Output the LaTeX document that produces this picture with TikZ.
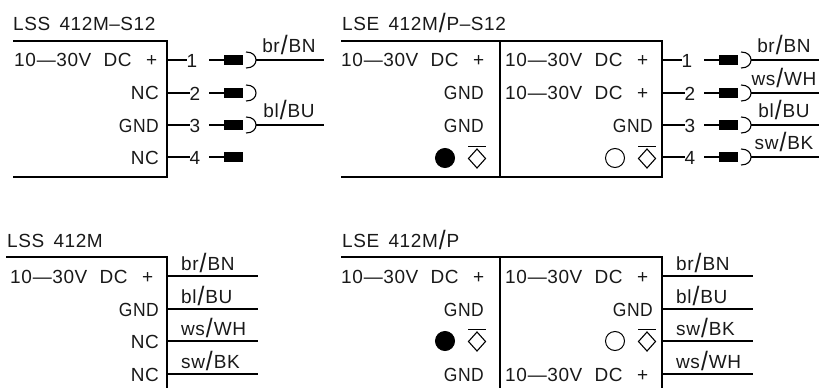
\documentclass[tikz,border=0pt]{standalone}
\usepackage{fontspec}
\usepackage{graphicx}
\setmainfont[LetterSpace=3,WordSpace=1.6]{Liberation Sans}
\usetikzlibrary{calc}
\newcommand{\bslash}{\hspace{1pt}\raisebox{-2.5pt}{\scalebox{1.3}[1.4]{/}}\hspace{1pt}}
\newcommand{\vdc}{10\hspace{1pt}—\hspace{0.5pt}30V\hspace{3pt} DC\hspace{5pt} +}
\newcommand{\gnd}{\scalebox{0.92}[1]{GND}}
\tikzset{
  x=1pt,y=-1pt,
  wire/.style={line width=1.1pt,black},
  txt/.style={inner sep=0pt,font=\fontsize{19}{21}\selectfont,text=black!90},
  rtxt/.style={txt,anchor=base east},
  ltxt/.style={txt,anchor=base west},
  pnum/.style={txt,anchor=center},
  plug/.style={fill=black,draw=none,minimum width=19pt,minimum height=9.5pt,inner sep=0pt,anchor=west},
  led/.style={circle,draw=black,line width=1pt,minimum size=19pt,inner sep=0pt},
  ledon/.style={led,fill=black},
}
% name, edge x, row y, number, label, number x offset
\newcommand{\pinrow}[6]{%
  \coordinate (#1e) at (#2,#3);
  \node[pnum] (#1n) at (#2+#6,#3+1) {#4};
  \node[plug] (#1p) at (#2+57,#3) {};
  \coordinate (#1s) at (#2+42,#3);
  \draw[wire] (#1e) -- (#1e -| #1n.west);
  \draw[wire] (#1s) -- (#1p.west);
  \coordinate (#1a) at (#2+79,#3-8);
  \coordinate (#1b) at (#2+79,#3+8);
  \coordinate (#1w) at (#2+89,#3);
  \draw[wire] (#1a) .. controls (#2+86,#3-8) and (#2+89,#3-4) .. (#1w)
     .. controls (#2+89,#3+4) and (#2+86,#3+8) .. (#1b);
  \if\relax\detokenize{#5}\relax\else
    \coordinate (#1z) at (#2+157,#3);
    \draw[wire] (#1w) -- (#1z);
    \node[txt,anchor=base] (#1l) at (#2+122,#3-8) {#5};
  \fi
}
\newcommand{\wirerow}[4]{% name, edge x, y, label
  \coordinate (#1e) at (#2,#3);
  \coordinate (#1z) at (#2+91,#3);
  \draw[wire] (#1e) -- (#1z);
  \node[ltxt] (#1l) at (#2+14,#3-6) {#4};
}
\newcommand{\sensor}[2]{% name, centre
  \node[inner sep=0pt,minimum size=0pt] (#1) at #2 {};
  \coordinate (#1t) at ($(#1)+(0,-9.5)$);
  \coordinate (#1r) at ($(#1)+(8.5,0)$);
  \coordinate (#1b) at ($(#1)+(0,9.5)$);
  \coordinate (#1l) at ($(#1)+(-8.5,0)$);
  \draw[wire] (#1t)--(#1r)--(#1b)--(#1l)--cycle;
  \draw[wire] ($(#1t)+(-9,-2.5)$) -- ($(#1t)+(9,-2.5)$);
}
\begin{document}
\begin{tikzpicture}
\useasboundingbox (0,0) rectangle (835,388);
% ---------- top left
\node[ltxt] (t1) at (13,30) {LSS 412M\hspace{0.5pt}–\hspace{0.5pt}S12};
\coordinate (a1) at (13,41); \coordinate (a2) at (167,41); \coordinate (a3) at (167,177); \coordinate (a4) at (13,177);
\draw[wire] (a1)--(a2)--(a3)--(a4);
\node[ltxt] (a10) at (14,66) {\vdc};
\node[rtxt] at (159,99) {NC};
\node[rtxt] at (159,132) {\gnd};
\node[rtxt] at (159,164) {NC};
\pinrow{A}{167}{60}{1}{br\bslash BN}{25}
\pinrow{B}{167}{93}{2}{}{28}
\pinrow{C}{167}{125}{3}{bl\bslash BU}{28}
\coordinate (De) at (167,157);
\coordinate (Ds) at (209,157);
\node[pnum] (Dn) at (195,158) {4};
\node[plug] (Dp) at (224,157) {};
\draw[wire] (De) -- (De -| Dn.west);
\draw[wire] (Ds) -- (Dp.west);
% ---------- top right
\node[ltxt] (t2) at (342,30) {LSE 412M\bslash P\hspace{0.5pt}–\hspace{0.5pt}S12};
\coordinate (b1) at (341,41); \coordinate (b2) at (662,41); \coordinate (b3) at (662,177); \coordinate (b4) at (341,177);
\coordinate (bd1) at (500,41); \coordinate (bd2) at (500,177);
\draw[wire] (b1)--(b2)--(b3)--(b4);
\draw[wire] (bd1)--(bd2);
\node[ltxt] at (341,66) {\vdc};
\node[ltxt] at (505,66) {\vdc};
\node[ltxt] at (505,99) {\vdc};
\node[rtxt] at (484,99) {\gnd};
\node[rtxt] at (484,132) {\gnd};
\node[rtxt] at (653,132) {\gnd};
\node[ledon] (l1) at (445,158) {};
\sensor{s1}{(477,158.5)}
\node[led] (l2) at (615,158) {};
\sensor{s2}{(647,158.5)}
\pinrow{E}{662}{60}{1}{br\bslash BN}{25}
\pinrow{F}{662}{93}{2}{ws\bslash WH}{28}
\pinrow{G}{662}{125}{3}{bl\bslash BU}{28}
\pinrow{H}{662}{157}{4}{sw\bslash BK}{28}
% ---------- bottom left
\node[ltxt] (t3) at (7,247) {LSS 412M};
\coordinate (c1) at (6,257); \coordinate (c2) at (167,257); \coordinate (c3) at (167,388);
\draw[wire] (c1)--(c2)--(c3);
\node[ltxt] at (10,283) {\vdc};
\node[rtxt] at (159,316) {\gnd};
\node[rtxt] at (159,348) {NC};
\node[rtxt] at (159,381) {NC};
\wirerow{I}{167}{276}{br\bslash BN}
\wirerow{J}{167}{309}{bl\bslash BU}
\wirerow{K}{167}{341}{ws\bslash WH}
\wirerow{L}{167}{374}{sw\bslash BK}
% ---------- bottom right
\node[ltxt] (t4) at (342,247) {LSE 412M\bslash P};
\coordinate (d1) at (341,257); \coordinate (d2) at (662,257); \coordinate (d3) at (662,388);
\coordinate (dd1) at (500,257); \coordinate (dd2) at (500,388);
\draw[wire] (d1)--(d2)--(d3);
\draw[wire] (dd1)--(dd2);
\node[ltxt] at (341,283) {\vdc};
\node[ltxt] at (505,283) {\vdc};
\node[ltxt] at (505,381) {\vdc};
\node[rtxt] at (484,316) {\gnd};
\node[rtxt] at (653,316) {\gnd};
\node[rtxt] at (484,381) {\gnd};
\node[ledon] (l3) at (445,341) {};
\sensor{s3}{(477,341.5)}
\node[led] (l4) at (615,341) {};
\sensor{s4}{(647,341.5)}
\wirerow{M}{662}{276}{br\bslash BN}
\wirerow{N}{662}{309}{bl\bslash BU}
\wirerow{O}{662}{341}{sw\bslash BK}
\wirerow{P}{662}{374}{ws\bslash WH}
\end{tikzpicture}
\end{document}
